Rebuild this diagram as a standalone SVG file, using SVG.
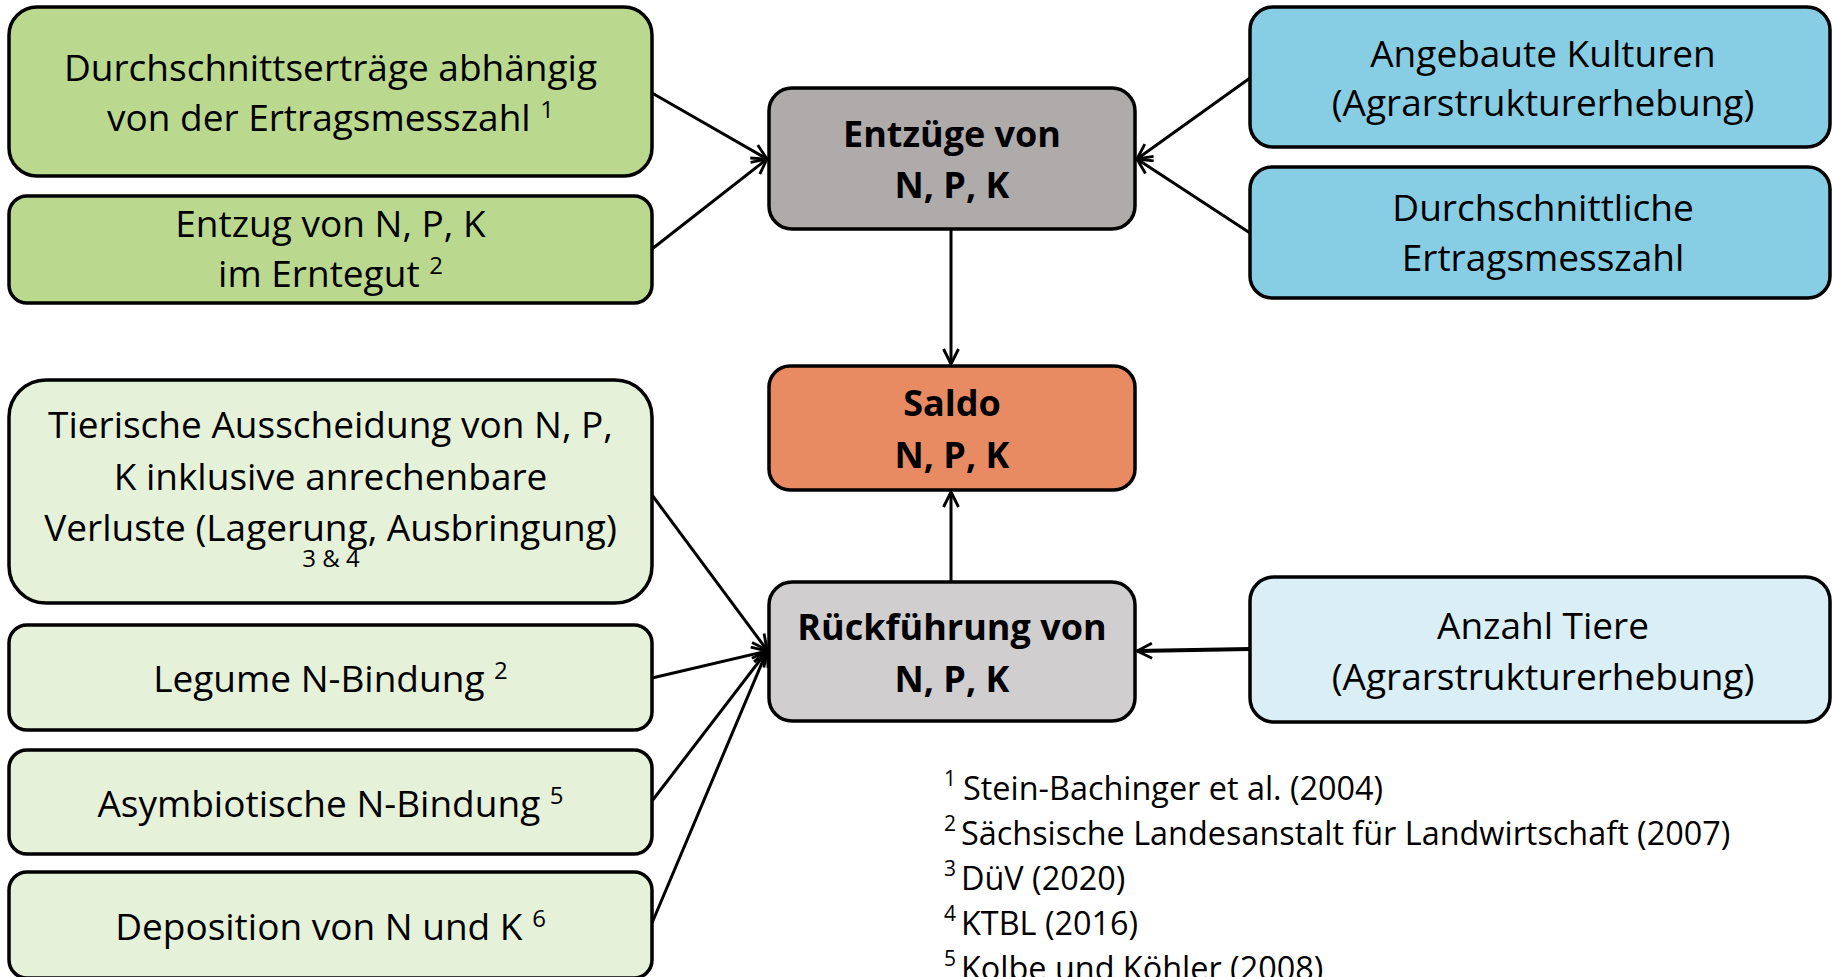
<svg xmlns="http://www.w3.org/2000/svg" width="1832" height="977" viewBox="0 0 1832 977">
<style>
.box{stroke:#000;stroke-width:3.5}
.t{font-family:"Open Sans","Noto Sans",sans-serif;font-size:37px;fill:#000;text-anchor:middle}
.b{font-weight:bold;font-size:36px}
.sup{font-size:24px}
.fn{font-family:"Open Sans","Noto Sans",sans-serif;font-size:32.4px;fill:#000}
.fs{font-family:"Open Sans","Noto Sans",sans-serif;font-size:21px;fill:#000}
.c{stroke:#000;stroke-width:3;fill:none;marker-end:url(#arr)}
</style>
<defs>
<marker id="arr" viewBox="0 0 12 12" refX="11" refY="6" markerWidth="18" markerHeight="18" markerUnits="userSpaceOnUse" orient="auto">
<path d="M1,1 L11,6 L1,11" fill="none" stroke="#000" stroke-width="1.9"/>
</marker>
</defs>
<rect width="1832" height="977" fill="#fff"/>
<g id="connectors">
<line class="c" x1="652" y1="93" x2="767" y2="159"/>
<line class="c" x1="652" y1="249" x2="767" y2="159"/>
<line class="c" x1="1250" y1="78" x2="1137" y2="159"/>
<line class="c" x1="1250" y1="233" x2="1137" y2="159"/>
<line class="c" x1="951" y1="229" x2="951" y2="364"/>
<line class="c" x1="951" y1="582" x2="951" y2="492"/>
<line class="c" x1="652" y1="495" x2="767" y2="650"/>
<line class="c" x1="652" y1="678" x2="767" y2="651"/>
<line class="c" x1="652" y1="801" x2="767" y2="651"/>
<line class="c" x1="652" y1="923" x2="767" y2="651"/>
<line class="c" x1="1250" y1="649" x2="1137" y2="651" style="stroke-width:4"/>
</g>
<g id="n_ertraege">
<rect class="box" x="9" y="7" width="643" height="169" rx="28" fill="#BAD98F"/>
<text class="t" x="330.5" y="81">Durchschnittserträge abhängig</text>
<text class="t" x="330.5" y="131">von der Ertragsmesszahl <tspan class="sup" dy="-13">1</tspan></text>
</g>
<g id="n_entzug">
<rect class="box" x="9" y="196" width="643" height="107" rx="18" fill="#BAD98F"/>
<text class="t" x="330.5" y="237">Entzug von N, P, K</text>
<text class="t" x="330.5" y="287">im Erntegut <tspan class="sup" dy="-13">2</tspan></text>
</g>
<g id="n_entzuege">
<rect class="box" x="769" y="88" width="366" height="141" rx="23" fill="#AFABAB"/>
<text class="t b" x="952" y="147">Entzüge von</text>
<text class="t b" x="952" y="198">N, P, K</text>
</g>
<g id="n_kulturen">
<rect class="box" x="1250" y="7" width="580" height="140" rx="23" fill="#87CEE4"/>
<text class="t" x="1543" y="67">Angebaute Kulturen</text>
<text class="t" x="1543" y="116">(Agrarstrukturerhebung)</text>
</g>
<g id="n_ertragsmesszahl">
<rect class="box" x="1250" y="167" width="580" height="131" rx="22" fill="#87CEE4"/>
<text class="t" x="1543" y="221">Durchschnittliche</text>
<text class="t" x="1543" y="271">Ertragsmesszahl</text>
</g>
<g id="n_saldo">
<rect class="box" x="769" y="366" width="366" height="124" rx="21" fill="#E98B62"/>
<text class="t b" x="952" y="416">Saldo</text>
<text class="t b" x="952" y="468">N, P, K</text>
</g>
<g id="n_tierische">
<rect class="box" x="9" y="380" width="643" height="223" rx="37" fill="#E6F1D9"/>
<text class="t" x="330.5" y="438">Tierische Ausscheidung von N, P,</text>
<text class="t" x="330.5" y="490">K inklusive anrechenbare</text>
<text class="t" x="330.5" y="541">Verluste (Lagerung, Ausbringung)</text>
<text class="t" x="331" y="567" style="font-size:24px">3 &amp; 4</text>
</g>
<g id="n_legume">
<rect class="box" x="9" y="625" width="643" height="105" rx="18" fill="#E6F1D9"/>
<text class="t" x="330.5" y="692">Legume N-Bindung <tspan class="sup" dy="-13">2</tspan></text>
</g>
<g id="n_asymb">
<rect class="box" x="9" y="750" width="643" height="104" rx="18" fill="#E6F1D9"/>
<text class="t" x="330.5" y="817">Asymbiotische N-Bindung <tspan class="sup" dy="-13">5</tspan></text>
</g>
<g id="n_deposition">
<rect class="box" x="9" y="872" width="643" height="106" rx="18" fill="#E6F1D9"/>
<text class="t" x="330.5" y="940">Deposition von N und K <tspan class="sup" dy="-13">6</tspan></text>
</g>
<g id="n_rueckfuehrung">
<rect class="box" x="769" y="582" width="366" height="139" rx="23" fill="#D0CECE"/>
<text class="t b" x="952" y="640">Rückführung von</text>
<text class="t b" x="952" y="692">N, P, K</text>
</g>
<g id="n_tiere">
<rect class="box" x="1250" y="577" width="580" height="145" rx="24" fill="#D9EEF5"/>
<text class="t" x="1543" y="639">Anzahl Tiere</text>
<text class="t" x="1543" y="690">(Agrarstrukturerhebung)</text>
</g>
<g id="footnotes">
<text class="fs" x="944" y="786">1</text><text class="fn" x="963" y="800">Stein-Bachinger et al. (2004)</text>
<text class="fs" x="944" y="831">2</text><text class="fn" x="961" y="845">Sächsische Landesanstalt für Landwirtschaft (2007)</text>
<text class="fs" x="944" y="876">3</text><text class="fn" x="961" y="890">DüV (2020)</text>
<text class="fs" x="944" y="921">4</text><text class="fn" x="961" y="935">KTBL (2016)</text>
<text class="fs" x="944" y="966">5</text><text class="fn" x="961" y="980">Kolbe und Köhler (2008)</text>
</g>
</svg>
